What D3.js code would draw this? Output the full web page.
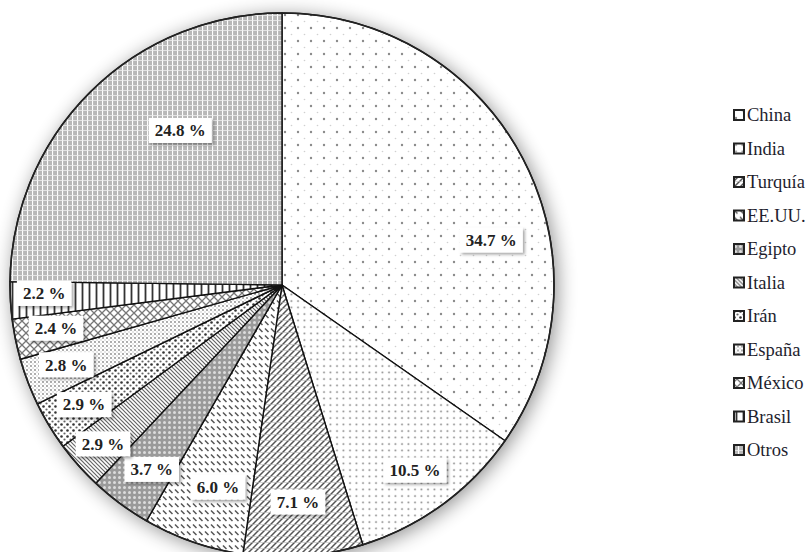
<!DOCTYPE html>
<html>
<head>
<meta charset="utf-8">
<script src="https://cdn.jsdelivr.net/npm/d3@7"></script>
<style>
  body { margin: 0; background: #fff; }
  svg { display: block; }
  .serif { font-family: "Liberation Serif", "Times New Roman", Tinos, "DejaVu Serif", serif; }
</style>
</head>
<body>
<svg id="chart" width="809" height="552"></svg>
<script>
// Datos: producción de tomate por país (%)
const paises = ["China", "India", "Turquía", "EE.UU.", "Egipto", "Italia", "Irán", "España", "México", "Brasil", "Otros"];
const porcentajes = [34.7, 10.5, 7.1, 6.0, 3.7, 2.9, 2.9, 2.8, 2.4, 2.2, 24.8];

// Ajustes de posición de las etiquetas (fracción del radio, giro en grados)
const etiquetaRadio = [0.787, 0.838, 0.80, 0.78, 0.83, 0.88, 0.85, 0.846, 0.846, 0.875, 0.68];
const etiquetaGiro = [15.4, 0.5, 0.3, -1.5, -1.3, 0, 0, 0.6, 0.7, 1.2, 11.3];

const svg = d3.select("#chart");
const defs = svg.append("defs");

// Sombras
const sombra = defs.append("filter").attr("id", "sombra")
    .attr("x", "-20%").attr("y", "-30%").attr("width", "150%").attr("height", "170%");
sombra.append("feDropShadow")
    .attr("dx", 2).attr("dy", 2).attr("stdDeviation", 1.5)
    .attr("flood-color", "#000").attr("flood-opacity", 0.35);

const halo = defs.append("filter").attr("id", "halo")
    .attr("x", "-20%").attr("y", "-20%").attr("width", "140%").attr("height", "140%");
halo.append("feGaussianBlur").attr("stdDeviation", 10);

// Tramas de cada porción
function trama(id, w, h, fondo, dibujar) {
    const p = defs.append("pattern")
        .attr("id", id)
        .attr("patternUnits", "userSpaceOnUse")
        .attr("width", w).attr("height", h);
    p.append("rect").attr("width", w).attr("height", h).attr("fill", fondo);
    dibujar(p);
}

trama("t0", 13, 13, "#fff", p => {
    p.append("circle").attr("cx", 3).attr("cy", 3).attr("r", 1.2).attr("fill", "#8a8a8a");
    p.append("circle").attr("cx", 9.5).attr("cy", 9.5).attr("r", 0.8).attr("fill", "#d0d0d0");
});
trama("t1", 6.5, 6.5, "#fff", p => {
    p.append("circle").attr("cx", 3).attr("cy", 3).attr("r", 1).attr("fill", "#8a8a8a");
});
trama("t2", 6, 6, "#fff", p => {
    p.append("path").attr("d", "M-1,7 L7,-1 M-1,1 L1,-1 M5,7 L7,5")
        .attr("stroke", "#555").attr("stroke-width", 1.5);
    p.append("line").attr("x1", 0).attr("y1", 5.5).attr("x2", 6).attr("y2", 5.5)
        .attr("stroke", "#bbb").attr("stroke-width", 0.6);
});
trama("t3", 6, 7, "#fff", p => {
    p.append("line").attr("x1", 1).attr("y1", 1.5).attr("x2", 4.5).attr("y2", 5)
        .attr("stroke", "#555").attr("stroke-width", 1.5);
});
trama("t4", 5, 5, "#9a9a9a", p => {
    p.append("circle").attr("cx", 2.5).attr("cy", 2.5).attr("r", 1.5).attr("fill", "#dcdcdc");
});
trama("t5", 4, 4, "#fff", p => {
    p.append("path").attr("d", "M-1,-1 L5,5 M3,-1 L5,1 M-1,3 L1,5")
        .attr("stroke", "#666").attr("stroke-width", 1.2);
});
trama("t6", 6, 6, "#fff", p => {
    p.append("circle").attr("cx", 1.5).attr("cy", 1.5).attr("r", 1.3).attr("fill", "#333");
    p.append("circle").attr("cx", 4.5).attr("cy", 4.5).attr("r", 1.1).attr("fill", "#666");
});
trama("t7", 4, 4, "#fff", p => {
    p.append("circle").attr("cx", 1).attr("cy", 1).attr("r", 0.9).attr("fill", "#888");
    p.append("circle").attr("cx", 3).attr("cy", 3).attr("r", 0.7).attr("fill", "#bbb");
});
trama("t8", 8, 8, "#fff", p => {
    p.append("path").attr("d", "M0,0 L8,8 M8,0 L0,8")
        .attr("stroke", "#777").attr("stroke-width", 1.3);
});
trama("t9", 7, 7, "#fff", p => {
    p.append("line").attr("x1", 3.5).attr("y1", 0).attr("x2", 3.5).attr("y2", 7)
        .attr("stroke", "#333").attr("stroke-width", 1.8);
});
trama("t10", 5, 5, "#b8b8b8", p => {
    p.append("line").attr("x1", 0.5).attr("y1", 0).attr("x2", 0.5).attr("y2", 5)
        .attr("stroke", "#fff").attr("stroke-width", 1.2);
    p.append("line").attr("x1", 0).attr("y1", 0.5).attr("x2", 5).attr("y2", 0.5)
        .attr("stroke", "#eee").attr("stroke-width", 0.8);
});

// Geometría del gráfico
const cx = 282, cy = 285, radio = 272;

const datos = paises.map((p, i) => ({ pais: p, valor: porcentajes[i], i: i }));

const pie = d3.pie().sort(null).value(d => d.valor);
const arcos = pie(datos);

const arco = d3.arc().innerRadius(0).outerRadius(radio);

const g = svg.append("g").attr("transform", `translate(${cx},${cy})`);

// Halo difuso alrededor del círculo
g.append("circle")
    .attr("r", radio)
    .attr("cx", 3).attr("cy", 3)
    .attr("fill", "#000")
    .attr("opacity", 0.45)
    .attr("filter", "url(#halo)");

g.selectAll("path.porcion")
    .data(arcos)
    .join("path")
    .attr("class", "porcion")
    .attr("d", arco)
    .attr("fill", d => `url(#t${d.data.i})`)
    .attr("stroke", "#111")
    .attr("stroke-width", 1.4)
    .attr("stroke-linejoin", "round");

g.append("circle")
    .attr("r", radio)
    .attr("fill", "none")
    .attr("stroke", "#222")
    .attr("stroke-width", 1.6);

// Etiquetas con caja blanca y sombra
const etiquetas = g.selectAll("g.etiqueta")
    .data(arcos)
    .join("g")
    .attr("class", "etiqueta")
    .attr("transform", d => {
        const k = etiquetaRadio[d.data.i];
        const a = (d.startAngle + d.endAngle) / 2 + etiquetaGiro[d.data.i] * Math.PI / 180;
        const r = radio * k;
        return `translate(${r * Math.sin(a)},${-r * Math.cos(a)})`;
    });

etiquetas.append("text")
    .attr("class", "serif")
    .attr("text-anchor", "middle")
    .attr("dy", "0.34em")
    .attr("font-weight", "bold")
    .attr("font-size", 17)
    .attr("fill", "#222")
    .text(d => d3.format(".1f")(d.data.valor) + " %");

// caja a la medida del texto
etiquetas.each(function () {
    const grupo = d3.select(this);
    const bb = grupo.select("text").node().getBBox();
    grupo.insert("rect", "text")
        .attr("x", bb.x - 6).attr("y", -12.5)
        .attr("width", bb.width + 12).attr("height", 25)
        .attr("fill", "#fff")
        .attr("filter", "url(#sombra)");
});

// Leyenda
const leyenda = svg.append("g").attr("transform", "translate(733,115)");
const paso = 33.5;

const filas = leyenda.selectAll("g.fila")
    .data(datos)
    .join("g")
    .attr("class", "fila")
    .attr("transform", (d, i) => `translate(0,${i * paso})`);

filas.append("rect")
    .attr("x", 1).attr("y", -5)
    .attr("width", 10).attr("height", 10)
    .attr("fill", d => `url(#t${d.i})`)
    .attr("stroke", "#222")
    .attr("stroke-width", 2);

filas.append("text")
    .attr("class", "serif")
    .attr("x", 14)
    .attr("dy", "0.35em")
    .attr("font-size", 18.5)
    .attr("fill", "#1e1e2e")
    .text(d => d.pais);
</script>
</body>
</html>
